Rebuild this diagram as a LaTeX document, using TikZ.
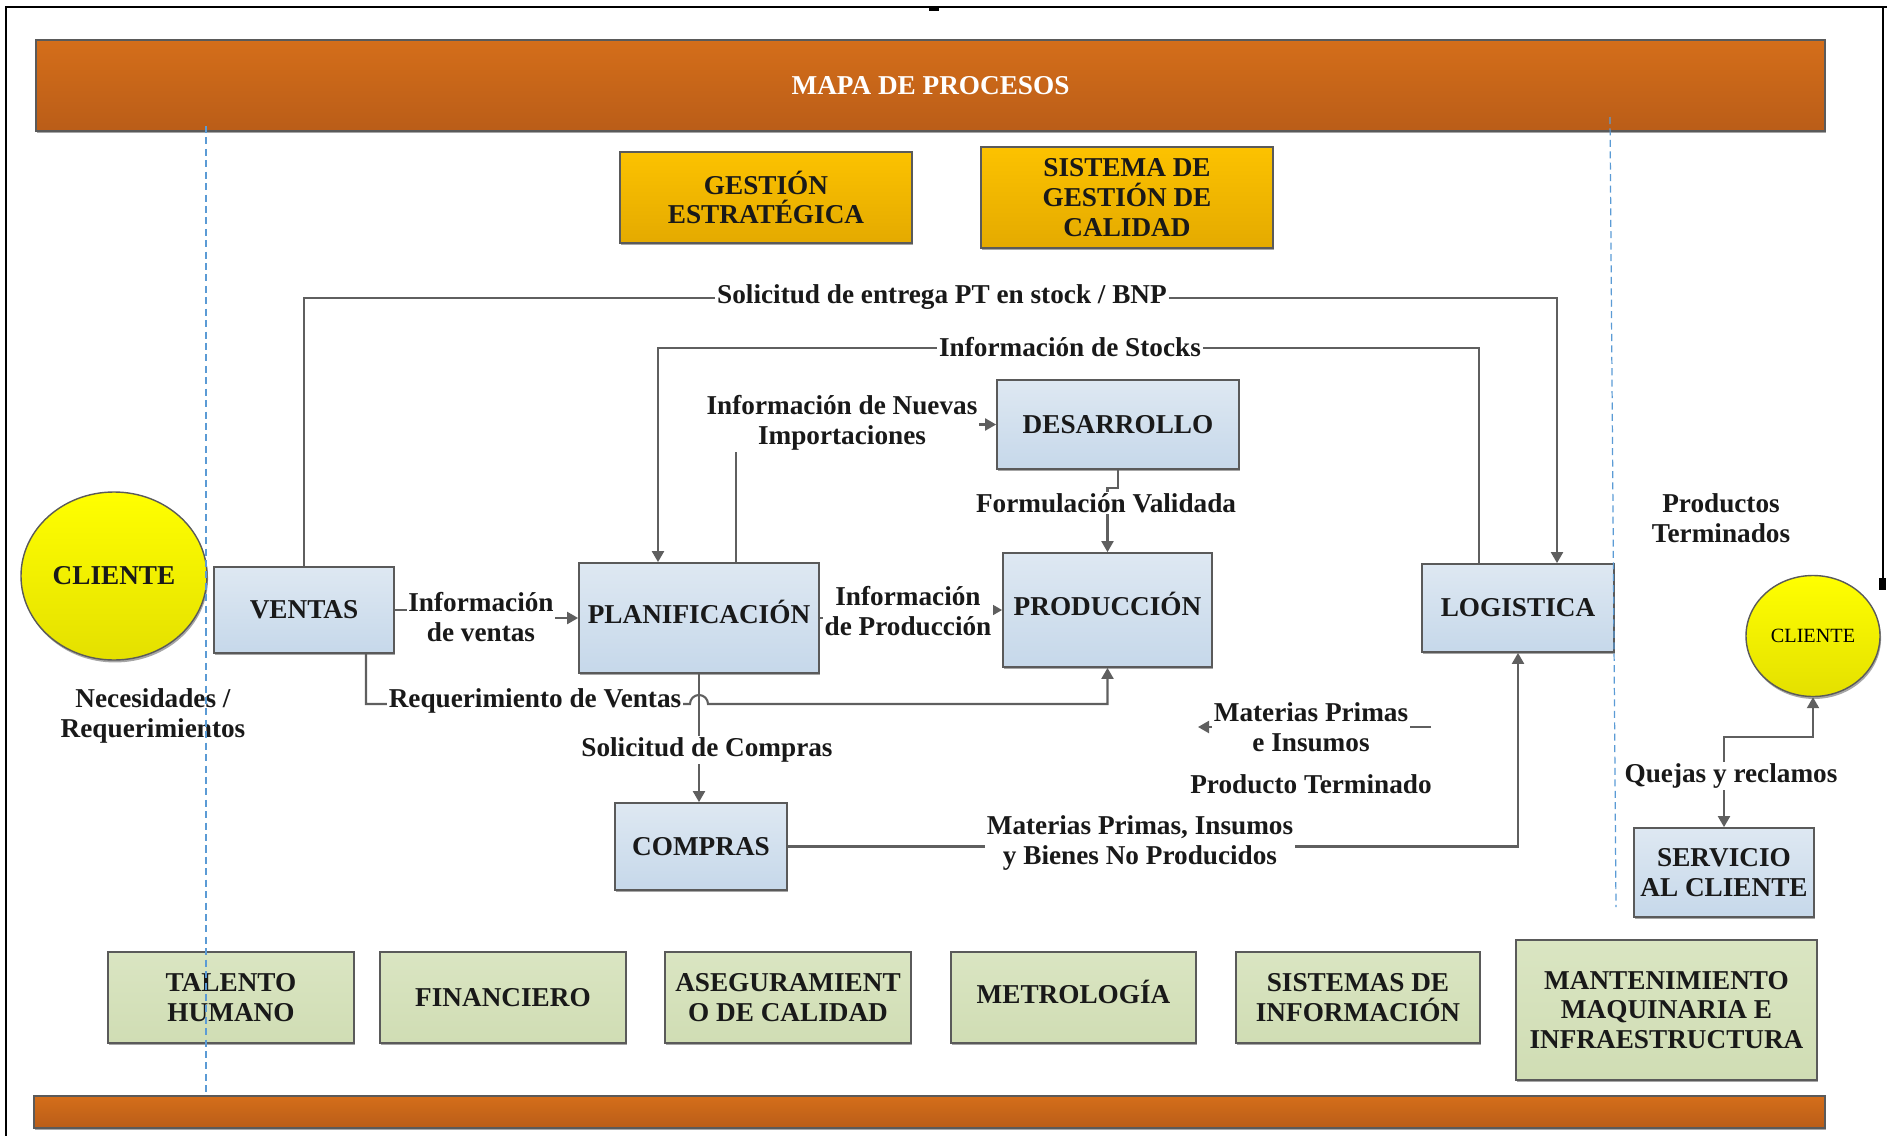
\documentclass[tikz,border=0pt]{standalone}
\usepackage{fontspec}
\setmainfont{Liberation Serif}
\usetikzlibrary{calc,shapes.geometric,arrows.meta,shadows}

\definecolor{barTop}{RGB}{212,110,26}
\definecolor{barBot}{RGB}{186,93,24}
\definecolor{goldTop}{RGB}{252,194,0}
\definecolor{goldBot}{RGB}{228,170,0}
\definecolor{blueTop}{RGB}{222,232,242}
\definecolor{blueBot}{RGB}{198,216,234}
\definecolor{greenTop}{RGB}{218,229,194}
\definecolor{greenBot}{RGB}{208,221,180}
\definecolor{yelTop}{RGB}{255,255,0}
\definecolor{yelBot}{RGB}{228,224,0}
\definecolor{edgeGray}{RGB}{90,90,90}
\definecolor{wireGray}{RGB}{95,95,95}
\definecolor{guideBlue}{RGB}{91,155,213}

\tikzset{
  sz/.style 2 args={minimum width=#1*0.02cm, minimum height=#2*0.02cm},
  txt/.style={font=\fontsize{15.5pt}{17pt}\selectfont\bfseries, align=center, text=black!90},
  capsonly/.style={text height=0.68em, text depth=0pt},
  boxshadow/.style={drop shadow={shadow xshift=0.6pt, shadow yshift=-1.4pt, opacity=0.35, fill=black}},
  bar/.style={rectangle, draw=edgeGray, line width=0.9pt, top color=barTop, bottom color=barBot, boxshadow, inner sep=0pt},
  gold/.style={rectangle, draw=edgeGray, line width=0.9pt, top color=goldTop, bottom color=goldBot, boxshadow, txt, inner sep=0pt},
  proc/.style={rectangle, draw=edgeGray, line width=1pt, top color=blueTop, bottom color=blueBot, boxshadow, txt, inner sep=0pt},
  support/.style={rectangle, draw=edgeGray, line width=1pt, top color=greenTop, bottom color=greenBot, boxshadow, txt, inner sep=0pt},
  client/.style={ellipse, draw=edgeGray, line width=0.8pt, top color=yelTop, bottom color=yelBot, boxshadow, inner sep=0pt},
  conn/.style={draw=wireGray, line width=1.2pt},
  arrowed/.style={-{Triangle[length=0.22cm,width=0.24cm]}},
  twoway/.style={{Triangle[length=0.22cm,width=0.24cm]}-{Triangle[length=0.22cm,width=0.24cm]}},
  lbl/.style={txt, fill=white, inner sep=1pt},
  pageedge/.style={draw=black, line width=1.1pt},
  guideline/.style={draw=guideBlue, line width=0.7pt, dash pattern=on 4pt off 2.5pt},
}

\begin{document}
\begin{tikzpicture}[x=0.02cm, y=-0.02cm]
\useasboundingbox (0,0) rectangle (1887,1136);

% page edges
\draw[pageedge] (6,1136) -- (6,7) -- (1887,7);
\draw[pageedge] (1883,7) -- (1883,589);
\fill (1879,578) rectangle (1886,590);
\fill (929,7) rectangle (939,11);

% banners
\node[bar, txt, text=white, sz={1789}{91}] (topbar) at (930.5,85.5) {MAPA DE PROCESOS};
\node[bar, sz={1791}{32}] (bottombar) at (929.5,1112) {};

% strategic processes
\node[gold, sz={292}{91}] (gest) at (766,197.5) {GESTIÓN\\ESTRATÉGICA};
\node[gold, sz={292}{101}] (sgc) at (1127,197.5) {SISTEMA DE\\GESTIÓN DE\\CALIDAD};

% clients
\node[client, txt, sz={186}{168}] (cliA) at (114,576) {CLIENTE};
\node[client, sz={134}{121}, font=\fontsize{11.5pt}{13pt}\selectfont] (cliB) at (1813,636) {CLIENTE};

% core processes
\node[proc, sz={180}{86}] (ventas) at (304,610) {VENTAS};
\node[proc, capsonly, sz={240}{110}] (planif) at (699,618) {PLANIFICACIÓN};
\node[proc, sz={242}{89}] (desarrollo) at (1118,424.5) {DESARROLLO};
\node[proc, capsonly, sz={209}{114}] (produccion) at (1107.5,610) {PRODUCCIÓN};
\node[proc, sz={192}{88}] (logistica) at (1518,608) {LOGISTICA};
\node[proc, sz={172}{87}] (compras) at (701,846.5) {COMPRAS};
\node[proc, sz={180}{89}] (servicio) at (1724,872.5) {SERVICIO\\AL CLIENTE};

% support processes
\node[support, sz={246}{91}] (talento) at (231,997.5) {TALENTO\\HUMANO};
\node[support, sz={246}{91}] (financiero) at (503,997.5) {FINANCIERO};
\node[support, sz={246}{91}] (aseg) at (788,997.5) {ASEGURAMIENT\\O DE CALIDAD};
\node[support, capsonly, sz={245}{91}] (metro) at (1073.5,997.5) {METROLOGÍA};
\node[support, sz={244}{91}] (sistinfo) at (1358,997.5) {SISTEMAS DE\\INFORMACIÓN};
\node[support, sz={301}{140}] (mant) at (1666.5,1010) {MANTENIMIENTO\\MAQUINARIA E\\INFRAESTRUCTURA};

% routing helpers
\coordinate (reqY) at (0,704);
\coordinate (mpR) at (1431,727);
\coordinate (mpL) at (1198,727);

% connectors
\draw[conn,arrowed] (ventas.north) |- ($(logistica.north)+(39,-265)$) -- ($(logistica.north)+(39,0)$);
\draw[conn,arrowed] ($(logistica.north)+(-39,0)$) |- ($(planif.north)+(-41,-214)$) -- ($(planif.north)+(-41,0)$);
\draw[conn,arrowed] ($(planif.north)+(37,0)$) |- (desarrollo.west);
\draw[conn,arrowed] (desarrollo.south) -- ++(0,18) -| (produccion.north);
\draw[conn,arrowed] (ventas.east) -| ($(ventas.east)!0.5!(planif.west)$) |- (planif.west);
\draw[conn,arrowed] (planif.east) -| ($(planif.east)!0.5!(produccion.west)$) |- (produccion.west);
\draw[conn,arrowed] ($(ventas.south)+(62,0)$) |- ($(planif.south |- reqY)+(-9,0)$)
   arc[start angle=180, end angle=0, radius=0.18cm] -| (produccion.south);
\draw[conn,arrowed] (planif.south) -- (planif.south |- compras.north);
\draw[conn,arrowed] (compras.east) -| (logistica.south);
\draw[conn,arrowed] (mpR) -- (mpL);
\draw[conn,twoway] (servicio.north) |- ($(cliB.south)+(0,40)$) -- (cliB.south);

% connector labels
\node[lbl] (lSol) at (942,297) {Solicitud de entrega PT en stock / BNP};
\node[lbl] (lStock) at (1070,347) {Información de Stocks};
\node[lbl] (lNuevas) at (842,423) {Información de Nuevas\\Importaciones};
\node[lbl] (lForm) at (1106,503) {Formulación Validada};
\node[lbl] (lVentas) at (481,617) {Información\\de ventas};
\node[lbl] (lProd) at (908,611) {Información\\de Producción};
\node[lbl] (lReq) at (535,701) {Requerimiento de Ventas};
\node[lbl] (lCompras) at (707,750) {Solicitud de Compras};
\node[lbl] (lMPB) at (1140,843) {Materias Primas, Insumos\\y Bienes No Producidos};
\node[lbl] (lMPI) at (1311,727) {Materias Primas\\e Insumos};
\node[txt] (lPT) at (1311,784) {Producto Terminado};
\node[txt] (lPTs) at (1721,518) {Productos\\Terminados};
\node[lbl] (lQuejas) at (1731,776) {Quejas y reclamos};
\node[txt] (lNec) at (153,716) {Necesidades /\\Requerimientos};

% dashed boundary guides
\draw[guideline] (206,126) -- (206,1095);
\draw[guideline] (1610,117) -- (1616,907);
\end{tikzpicture}
\end{document}
